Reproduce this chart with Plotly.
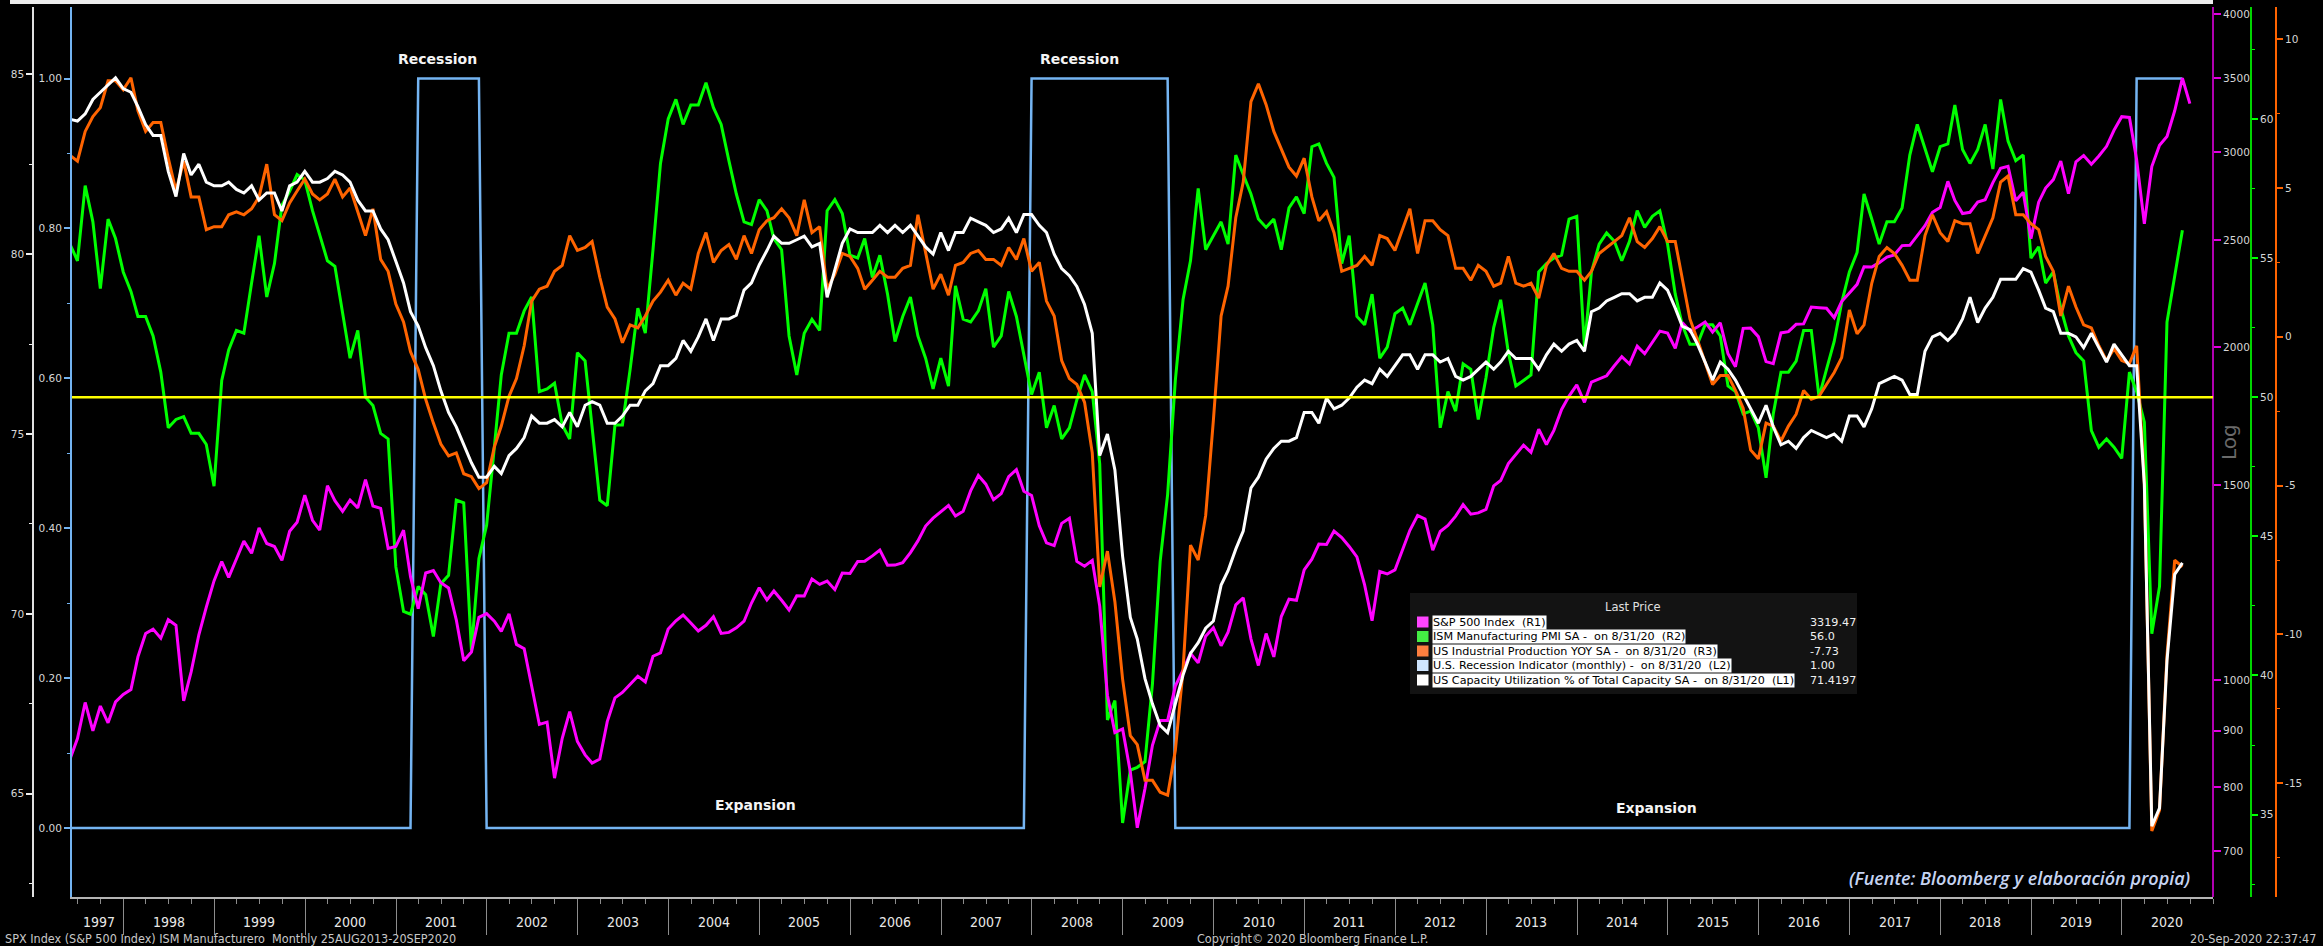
import calendar
import plotly.graph_objects as go

W, H = 2323, 946

# ---------------- data (monthly, May-1997 .. Aug-2020; S&P to Sep-2020) ----------------
spx = [848.28, 885.14, 954.31, 899.47, 947.28, 914.62, 955.40, 970.43,
       980.28, 1049.34, 1101.75, 1111.75, 1090.82, 1133.84, 1120.67, 957.28, 1017.01, 1098.67, 1163.63, 1229.23,
       1279.64, 1238.33, 1286.37, 1335.18, 1301.84, 1372.71, 1328.72, 1320.41, 1282.71, 1362.93, 1388.91, 1469.25,
       1394.46, 1366.42, 1498.58, 1452.43, 1420.60, 1454.60, 1430.83, 1517.68, 1436.51, 1429.40, 1314.95, 1320.28,
       1366.01, 1239.94, 1160.33, 1249.46, 1255.82, 1224.42, 1211.23, 1133.58, 1040.94, 1059.78, 1139.45, 1148.08,
       1130.20, 1106.73, 1147.39, 1076.92, 1067.14, 989.82, 911.62, 916.07, 815.28, 885.76, 936.31, 879.82,
       855.70, 841.15, 848.18, 916.92, 963.59, 974.50, 990.31, 1008.01, 995.97, 1050.71, 1058.20, 1111.92,
       1131.13, 1144.94, 1126.21, 1107.30, 1120.68, 1140.84, 1101.72, 1104.24, 1114.58, 1130.20, 1173.82, 1211.92,
       1181.27, 1203.60, 1180.59, 1156.85, 1191.50, 1191.33, 1234.18, 1220.33, 1228.81, 1207.01, 1249.48, 1248.29,
       1280.08, 1280.66, 1294.83, 1310.61, 1270.09, 1270.20, 1276.66, 1303.82, 1335.85, 1377.94, 1400.63, 1418.30,
       1438.24, 1406.82, 1420.86, 1482.37, 1530.62, 1503.35, 1455.27, 1473.99, 1526.75, 1549.38, 1481.14, 1468.36,
       1378.55, 1330.63, 1322.70, 1385.59, 1400.38, 1280.00, 1267.38, 1282.83, 1166.36, 968.75, 896.24, 903.25,
       825.88, 735.09, 797.87, 872.81, 919.14, 919.32, 987.48, 1020.62, 1057.08, 1036.19, 1095.63, 1115.10,
       1073.87, 1104.49, 1169.43, 1186.69, 1089.41, 1030.71, 1101.60, 1049.33, 1141.20, 1183.26, 1180.55, 1257.64,
       1286.12, 1327.22, 1325.83, 1363.61, 1345.20, 1320.64, 1292.28, 1218.89, 1131.42, 1253.30, 1246.96, 1257.60,
       1312.41, 1365.68, 1408.47, 1397.91, 1310.33, 1362.16, 1379.32, 1406.58, 1440.67, 1412.16, 1416.18, 1426.19,
       1498.11, 1514.68, 1569.19, 1597.57, 1630.74, 1606.28, 1685.73, 1632.97, 1681.55, 1756.54, 1805.81, 1848.36,
       1782.59, 1859.45, 1872.34, 1883.95, 1923.57, 1960.23, 1930.67, 2003.37, 1972.29, 2018.05, 2067.56, 2058.90,
       1994.99, 2104.50, 2067.89, 2085.51, 2107.39, 2063.11, 2103.84, 1972.18, 1920.03, 2079.36, 2080.41, 2043.94,
       1940.24, 1932.23, 2059.74, 2065.30, 2096.95, 2098.86, 2173.60, 2170.95, 2168.27, 2126.15, 2198.81, 2238.83,
       2278.87, 2363.64, 2362.72, 2384.20, 2411.80, 2423.41, 2470.30, 2471.65, 2519.36, 2575.26, 2647.58, 2673.61,
       2823.81, 2713.83, 2640.87, 2648.05, 2705.27, 2718.37, 2816.29, 2901.52, 2913.98, 2711.74, 2760.17, 2506.85,
       2704.10, 2784.49, 2834.40, 2945.83, 2752.06, 2941.76, 2980.38, 2926.46, 2976.74, 3037.56, 3140.98, 3230.78,
       3225.52, 2954.22, 2584.59, 2912.43, 3044.31, 3100.29, 3271.12, 3500.31, 3319.47]

ism = [55.5, 54.9, 57.6, 56.3, 53.9, 56.4, 55.7, 54.5, 53.8, 52.9, 52.9, 52.2, 50.9, 48.9, 49.2, 49.3,
       48.7, 48.7, 48.3, 46.8, 50.6, 51.7, 52.4, 52.3, 54.1, 55.8, 53.6, 54.8, 56.9, 57.4, 58.0, 57.8,
       56.7, 55.8, 54.9, 54.7, 53.1, 51.4, 52.4, 50.0, 49.7, 48.7, 48.5, 43.9, 42.3, 42.2, 43.2,
       42.9, 41.4, 43.3, 43.6, 46.3, 46.2, 40.9, 44.2, 45.4, 48.2, 50.8, 52.3, 52.3, 53.1, 53.6, 50.2,
       50.3, 50.5, 49.0, 48.5, 51.6, 51.3, 49.0, 46.3, 46.1, 49.0, 49.0, 51.0, 53.2, 52.3, 55.3, 58.4,
       60.0, 60.7, 59.8, 60.5, 60.5, 61.3, 60.4, 59.8, 58.5, 57.3, 56.3, 56.2, 57.1, 56.7, 55.7,
       55.3, 52.2, 50.8, 52.3, 52.8, 52.4, 56.7, 57.1, 56.6, 55.1, 55.0, 55.7, 54.3, 55.1, 53.7, 52.0,
       52.9, 53.6, 52.2, 51.4, 50.3, 51.4, 50.4, 54.0, 52.8, 52.7, 53.1, 53.9, 51.8, 52.2, 53.8, 52.9,
       51.5, 50.1, 50.9, 48.9, 49.7, 48.5, 48.9, 49.9, 50.8, 50.2, 47.6, 38.4, 39.1, 34.7, 36.6,
       36.7, 36.9, 39.7, 44.1, 46.5, 50.6, 53.5, 54.9, 57.5, 55.3, 55.8, 56.3, 55.5, 58.7, 58.0, 57.3,
       56.4, 56.1, 56.4, 55.3, 56.8, 57.2, 56.6, 59.0, 59.1, 58.4, 57.9, 54.8, 55.8, 52.9, 52.6, 53.7,
       51.4, 51.8, 53.0, 53.2, 52.6, 53.4, 54.1, 52.6, 48.9, 50.2, 49.5, 51.2, 51.0, 49.2, 50.7,
       52.5, 53.5, 51.6, 50.4, 50.6, 50.8, 54.5, 54.8, 55.0, 55.1, 56.4, 56.5, 51.8, 54.5, 55.5, 55.9,
       55.6, 54.9, 55.6, 56.7, 56.1, 56.5, 56.7, 55.5, 53.7, 52.6, 51.9, 51.9, 52.6, 52.6, 52.2, 50.4,
       50.2, 49.4, 49.5, 48.9, 47.1, 49.4, 50.9, 50.9, 51.3, 52.4, 52.4, 50.0, 51.0, 52.0, 53.4,
       54.5, 55.2, 57.3, 56.4, 55.5, 56.3, 56.3, 56.8, 58.7, 59.8, 58.9, 58.1, 59.0, 59.1, 60.5, 58.9,
       58.4, 58.9, 59.8, 58.2, 60.7, 59.2, 58.5, 58.7, 55.0, 55.4, 54.1, 54.5, 53.2, 52.2, 51.6, 51.3,
       48.8, 48.2, 48.5, 48.2, 47.8, 50.9, 50.2, 49.1, 41.5, 43.2, 52.7, 54.3, 56.0]

ip_yoy = [6.1, 5.9, 6.9, 7.4, 7.7, 8.6, 8.6, 8.3, 8.7, 7.6, 6.9, 7.2, 7.2, 6.0, 4.9, 5.9,
          4.7, 4.7, 3.6, 3.7, 3.7, 4.1, 4.2, 4.1, 4.3, 4.7, 5.8, 4.1, 3.9, 4.5, 4.9, 5.3,
          4.8, 4.6, 4.8, 5.3, 4.7, 5.0, 4.2, 3.4, 4.3, 2.6, 2.2, 1.1, 0.5, -0.5, -1.1,
          -2.1, -2.9, -3.6, -4.0, -3.9, -4.6, -4.7, -5.1, -4.9, -3.7, -3.0, -2.0, -1.4, -0.3, 1.2, 1.6,
          1.7, 2.2, 2.4, 3.4, 2.9, 3.0, 3.2, 2.0, 1.0, 0.6, -0.2, 0.4, 0.3, 0.7, 1.2, 1.5,
          1.9, 1.4, 1.8, 1.6, 2.8, 3.5, 2.5, 2.9, 3.1, 2.6, 3.4, 2.8, 3.6, 3.9, 4.0,
          4.3, 4.0, 3.4, 4.6, 3.5, 3.7, 1.6, 2.1, 2.8, 2.7, 2.3, 1.6, 1.9, 2.2, 2.0, 2.0,
          2.3, 2.4, 4.1, 2.8, 1.6, 2.1, 1.4, 2.4, 2.5, 2.8, 2.9, 2.6, 2.6, 2.4, 3.0, 2.6,
          3.3, 2.2, 2.5, 1.2, 0.7, -0.8, -1.4, -1.6, -2.2, -3.9, -8.4, -7.2, -8.9, -11.5, -13.4,
          -13.7, -14.9, -14.9, -15.3, -15.4, -13.9, -11.2, -7.0, -7.5, -6.0, -2.8, 0.7, 1.7, 4.0, 5.2, 7.9,
          8.5, 7.8, 6.9, 6.3, 5.7, 5.4, 6.0, 4.7, 3.9, 4.2, 3.5, 2.2, 2.3, 2.4, 2.7, 2.4,
          3.4, 3.3, 2.9, 3.6, 4.3, 2.8, 3.9, 3.9, 3.6, 3.4, 2.3, 2.3, 1.9, 2.4, 2.2,
          1.7, 1.8, 2.7, 1.8, 1.7, 1.8, 1.3, 2.4, 2.8, 2.3, 2.2, 2.2, 1.9, 2.2, 2.8, 3.0,
          3.2, 3.4, 4.0, 3.2, 3.0, 3.3, 3.7, 3.2, 3.2, 2.0, 0.6, -0.1, -0.9, -1.6, -1.3, -1.3,
          -1.8, -2.4, -3.8, -4.1, -2.9, -3.0, -3.5, -3.0, -2.6, -1.8, -2.1, -2.0, -1.6, -1.2, -0.7,
          0.9, 0.1, 0.4, 1.8, 2.7, 3.0, 2.8, 2.4, 1.9, 1.9, 3.4, 4.1, 3.5, 3.2, 3.9, 3.8,
          3.8, 2.8, 3.4, 4.0, 5.2, 5.4, 4.1, 4.1, 3.8, 3.6, 2.7, 2.2, 0.7, 1.7, 1.0, 0.4,
          0.3, -0.3, -0.8, -0.4, -0.8, -0.9, -0.3, -4.9, -16.6, -15.9, -10.7, -7.5, -7.73]

cap_util = [83.75, 83.7, 83.9, 84.3, 84.5, 84.7, 84.9, 84.6, 84.5, 84.1, 83.6, 83.3, 83.3, 82.3, 81.6, 82.8,
            82.2, 82.5, 82.0, 81.9, 81.9, 82.0, 81.8, 81.7, 81.9, 81.5, 81.7, 81.7, 81.2, 81.9, 82.0, 82.3,
            82.0, 82.0, 82.1, 82.3, 82.2, 82.0, 81.5, 81.2, 81.2, 80.7, 80.4, 79.8, 79.2, 78.4, 78.0,
            77.4, 76.9, 76.2, 75.6, 75.2, 74.7, 74.2, 73.8, 73.8, 74.1, 73.9, 74.4, 74.6, 74.9, 75.5, 75.3,
            75.3, 75.4, 75.2, 75.6, 75.2, 75.8, 75.9, 75.8, 75.3, 75.3, 75.5, 75.8, 75.8, 76.2, 76.4, 76.9,
            76.9, 77.1, 77.6, 77.3, 77.7, 78.2, 77.6, 78.2, 78.2, 78.3, 79.0, 79.2, 79.7, 80.1, 80.5,
            80.3, 80.3, 80.4, 80.5, 80.2, 80.3, 78.8, 79.6, 80.3, 80.7, 80.6, 80.6, 80.6, 80.8, 80.6, 80.8,
            80.6, 80.8, 80.5, 80.2, 80.0, 80.6, 80.1, 80.6, 80.6, 81.0, 80.9, 80.8, 80.6, 80.7, 81.0, 80.6,
            81.1, 81.1, 80.8, 80.6, 80.0, 79.6, 79.4, 79.1, 78.6, 77.8, 74.4, 75.0, 74.0, 71.6, 69.9,
            69.3, 68.2, 67.5, 66.9, 66.7, 67.5, 68.3, 68.9, 69.2, 69.6, 69.8, 70.8, 71.2, 71.8, 72.3, 73.5,
            73.8, 74.3, 74.6, 74.8, 74.8, 74.9, 75.6, 75.6, 75.3, 76.0, 75.7, 75.8, 76.0, 76.3, 76.5, 76.4,
            76.8, 76.6, 76.9, 77.2, 77.2, 76.8, 77.2, 77.2, 77.0, 77.1, 76.6, 76.5, 76.6, 76.8, 77.0,
            76.8, 77.0, 77.3, 77.1, 77.1, 77.1, 76.8, 77.2, 77.5, 77.3, 77.5, 77.6, 77.3, 78.4, 78.5, 78.7,
            78.8, 78.9, 78.9, 78.7, 78.8, 78.8, 79.2, 79.0, 78.5, 78.0, 77.9, 77.5, 77.0, 76.5, 77.0, 76.8,
            76.5, 76.1, 75.7, 75.3, 75.8, 75.2, 74.7, 74.8, 74.6, 74.9, 75.1, 75.0, 74.9, 75.0, 74.8,
            75.5, 75.5, 75.2, 75.7, 76.4, 76.5, 76.6, 76.5, 76.1, 76.1, 77.3, 77.7, 77.8, 77.6, 77.8, 78.2,
            78.8, 78.1, 78.5, 78.8, 79.3, 79.3, 79.3, 79.6, 79.5, 79.0, 78.5, 78.4, 77.8, 77.8, 77.7, 77.4,
            77.8, 77.4, 77.0, 77.5, 77.2, 76.9, 76.9, 73.6, 64.1, 64.6, 68.7, 71.1, 71.4197]

# recession indicator, run lengths (0 = expansion, 1 = recession)
recession = [0] * 46 + [1] * 9 + [0] * 72 + [1] * 19 + [0] * 127 + [1] * 7

ISM_THRESHOLD = 50

years = list(range(1997, 2021))
l1_ticks = [65, 70, 75, 80, 85]
l2_ticks = [0.0, 0.2, 0.4, 0.6, 0.8, 1.0]
r1_ticks = [700, 800, 900, 1000, 1500, 2000, 2500, 3000, 3500, 4000]
r2_ticks = [35, 40, 45, 50, 55, 60]
r3_ticks = [-15, -10, -5, 0, 5, 10]

legend_rows = [
    ("S&amp;P 500 Index\u00a0\u00a0(R1)", "3319.47", "#FF44FF"),
    ("ISM Manufacturing PMI SA -\u00a0\u00a0on 8/31/20\u00a0\u00a0(R2)", "56.0", "#44EE44"),
    ("US Industrial Production YOY SA -\u00a0\u00a0on 8/31/20\u00a0\u00a0(R3)", "-7.73", "#FF7F3F"),
    ("U.S. Recession Indicator (monthly) -\u00a0\u00a0on 8/31/20\u00a0\u00a0(L2)", "1.00", "#D0E6FF"),
    ("US Capacity Utilization % of Total Capacity SA -\u00a0\u00a0on 8/31/20\u00a0\u00a0(L1)", "71.4197", "#FFFFFF"),
]

assert len(spx) == 281, len(spx)
for name, s in [("ism", ism), ("ip", ip_yoy), ("cu", cap_util), ("rec", recession)]:
    assert len(s) == 280, (name, len(s))


def month_ends(n, y=1997, m=5):
    out = []
    for _ in range(n):
        out.append(f"{y:04d}-{m:02d}-{calendar.monthrange(y, m)[1]:02d}")
        m += 1
        if m > 12:
            m, y = 1, y + 1
    return out


dates = month_ends(281)


def px(X):
    return X / W


def py(Y):
    return 1 - Y / H


XD = [px(72), px(2213)]
YD = [py(897), py(7)]

TICKFONT = dict(family="DejaVu Sans", size=10.5, color="#D6D6D6")
C_BLUE = "#74B4F2"
C_MAG = "#FF00FF"
C_GREEN = "#00FF00"
C_ORANGE = "#FF6400"

fig = go.Figure()
fig.add_trace(go.Scatter(x=dates[:280], y=recession, mode="lines", line=dict(color=C_BLUE, width=2.5),
                         xaxis="x", yaxis="y", hoverinfo="skip", showlegend=False))
fig.add_trace(go.Scatter(x=dates[:280], y=ism, mode="lines", line=dict(color=C_GREEN, width=3),
                         xaxis="x", yaxis="y2", hoverinfo="skip", showlegend=False))
fig.add_trace(go.Scatter(x=dates, y=spx, mode="lines", line=dict(color=C_MAG, width=3),
                         xaxis="x", yaxis="y3", hoverinfo="skip", showlegend=False))
fig.add_trace(go.Scatter(x=dates[:280], y=ip_yoy, mode="lines", line=dict(color=C_ORANGE, width=3),
                         xaxis="x", yaxis="y4", hoverinfo="skip", showlegend=False))
fig.add_trace(go.Scatter(x=dates[:280], y=cap_util, mode="lines", line=dict(color="#FFFFFF", width=3),
                         xaxis="x", yaxis="y5", hoverinfo="skip", showlegend=False))


def fmt(v):
    return f"{v:g}"


common = dict(showgrid=False, zeroline=False, tickfont=TICKFONT, ticks="outside", fixedrange=True)

layout = dict(
    width=W, height=H,
    margin=dict(l=0, r=0, t=0, b=0, autoexpand=False),
    paper_bgcolor="black", plot_bgcolor="black",
    showlegend=False,
    xaxis=dict(domain=XD, type="date", range=["1997-06-08", "2021-01-01"], anchor="y",
               showline=True, linecolor="#B4B4B4", linewidth=1.5,
               tickvals=[f"{y}-01-01" for y in years[1:]], ticktext=["" for _ in years[1:]],
               ticks="outside", ticklen=36, tickwidth=1, tickcolor="#8C8C8C",
               showgrid=False, zeroline=False, fixedrange=True,
               minor=dict(dtick="M3", tick0="1997-01-01", ticks="outside", ticklen=5,
                          tickcolor="#8C8C8C", tickwidth=1, showgrid=False)),
    # L2 recession indicator (base axis)
    yaxis=dict(domain=YD, range=[-0.092, 1.0954], anchor="x", side="left",
               tickvals=l2_ticks, ticktext=[f"{v:.2f}" for v in l2_ticks],
               showline=True, linecolor=C_BLUE, linewidth=2, ticklen=6, tickwidth=2, tickcolor=C_BLUE,
               minor=dict(tickvals=[0.1, 0.3, 0.5, 0.7, 0.9], ticks="outside", ticklen=3,
                          tickcolor=C_BLUE, tickwidth=1),
               **common),
    # R2 ISM
    yaxis2=dict(overlaying="y", anchor="free", position=px(2251), side="right",
                range=[32.04, 64.02], tickvals=r2_ticks, ticktext=[fmt(v) for v in r2_ticks],
                showline=True, linecolor="#00D400", linewidth=2, ticklen=6, tickwidth=2, tickcolor=C_GREEN,
                minor=dict(tickvals=[32.5, 37.5, 42.5, 47.5, 52.5, 57.5, 62.5], ticks="outside", ticklen=3,
                           tickcolor=C_GREEN, tickwidth=1),
                **common),
    # R1 S&P (log)
    yaxis3=dict(overlaying="y", anchor="free", position=px(2213), side="right", type="log",
                range=[2.8038, 3.6085], tickvals=r1_ticks, ticktext=[str(v) for v in r1_ticks],
                showline=True, linecolor="#B000B0", linewidth=2, ticklen=7, tickwidth=2, tickcolor="#E000E0",
                **common),
    # R3 IP YoY
    yaxis4=dict(overlaying="y", anchor="free", position=px(2276), side="right",
                range=[-18.82, 11.08], tickvals=r3_ticks, ticktext=[fmt(v) for v in r3_ticks],
                showline=True, linecolor=C_ORANGE, linewidth=2, ticklen=6, tickwidth=2, tickcolor=C_ORANGE,
                minor=dict(tickvals=[-17.5, -12.5, -7.5, -2.5, 2.5, 7.5], ticks="outside", ticklen=3,
                           tickcolor=C_ORANGE, tickwidth=1),
                **common),
    # L1 capacity utilization
    yaxis5=dict(overlaying="y", anchor="free", position=px(33), side="left",
                range=[62.13, 86.87], tickvals=l1_ticks, ticktext=[fmt(v) for v in l1_ticks],
                showline=True, linecolor="#E0E0E0", linewidth=1.5, ticklen=6, tickwidth=2, tickcolor="#F0F0F0",
                minor=dict(tickvals=[62.5, 67.5, 72.5, 77.5, 82.5], ticks="outside", ticklen=3,
                           tickcolor="#F0F0F0", tickwidth=1),
                **common),
)
fig.update_layout(**layout)

shapes = []
# ISM = 50 reference line
shapes.append(dict(type="line", xref="paper", x0=XD[0], x1=XD[1], yref="y2", y0=ISM_THRESHOLD, y1=ISM_THRESHOLD,
                   line=dict(color="#FFFF00", width=2.5), layer="above"))
# top frame strip
shapes.append(dict(type="rect", xref="paper", yref="paper", x0=px(10), x1=px(2213), y0=py(4), y1=1,
                   fillcolor="#EDEDED", line=dict(width=0), layer="above"))
# legend panel
LX0, LX1, LY0, LY1 = 1410, 1857, 593, 694
shapes.append(dict(type="rect", xref="paper", yref="paper", x0=px(LX0), x1=px(LX1), y0=py(LY1), y1=py(LY0),
                   fillcolor="#131313", line=dict(width=0), layer="above"))
row_y = [622, 636.5, 651, 665.5, 680]
for (label, val, col), ry in zip(legend_rows, row_y):
    shapes.append(dict(type="rect", xref="paper", yref="paper", x0=px(1417), x1=px(1428.5),
                       y0=py(ry + 5.5), y1=py(ry - 5.5), fillcolor=col, line=dict(width=0), layer="above"))
fig.update_layout(shapes=shapes)

ann = []
BOLD = dict(family="DejaVu Sans", size=14, color="#F4F4F4")
for txt, X, Y in [("Recession", 437, 59), ("Recession", 1079, 59), ("Expansion", 755, 805), ("Expansion", 1656, 808)]:
    ann.append(dict(text=f"<b>{txt}</b>", x=px(X), y=py(Y), xref="paper", yref="paper", showarrow=False,
                    xanchor="center", yanchor="middle", font=BOLD))
ann.append(dict(text="(Fuente: Bloomberg y elaboración propia)", x=px(2192), y=py(878), xref="paper", yref="paper",
                showarrow=False, xanchor="right", yanchor="middle",
                font=dict(family="Open Sans", size=18, color="#C6D4F2", style="italic", weight=600)))
ann.append(dict(text="Log", x=px(2229), y=py(442), xref="paper", yref="paper", showarrow=False, textangle=-90,
                xanchor="center", yanchor="middle", font=dict(family="DejaVu Sans", size=20, color="#6A6A6A")))
# legend texts
ann.append(dict(text="Last Price", x=px(1633), y=py(607), xref="paper", yref="paper", showarrow=False,
                xanchor="center", yanchor="middle", font=dict(family="DejaVu Sans", size=11.5, color="#E0E0E0")))
for (label, val, col), ry in zip(legend_rows, row_y):
    ann.append(dict(text=label, x=px(1432), y=py(ry), xref="paper", yref="paper", showarrow=False,
                    xanchor="left", yanchor="middle", bgcolor="#FFFFFF", borderpad=0,
                    font=dict(family="DejaVu Sans", size=11.2, color="#000000")))
    ann.append(dict(text=val, x=px(1808), y=py(ry), xref="paper", yref="paper", showarrow=False,
                    xanchor="left", yanchor="middle",
                    font=dict(family="DejaVu Sans", size=11.2, color="#F0F0F0")))
# year labels
NARROW = "Liberation Sans Narrow, DejaVu Sans Condensed, Roboto Condensed, Liberation Sans"
for y in years:
    xpos = "1997-09-25" if y == 1997 else f"{y}-07-01"
    ann.append(dict(text=str(y), x=xpos, y=py(922), xref="x", yref="paper", showarrow=False,
                    xanchor="center", yanchor="middle", font=dict(family=NARROW, size=14, color="#E8E8E8")))
# footer
FOOT = dict(family=NARROW, size=12.5, color="#C8C8C8")
ann.append(dict(text="SPX Index (S&amp;P 500 Index) ISM Manufacturero\u00a0\u00a0Monthly 25AUG2013-20SEP2020",
                x=px(3), y=py(938), xref="paper", yref="paper", showarrow=False, xanchor="left",
                yanchor="middle", font=FOOT))
ann.append(dict(text="Copyright© 2020 Bloomberg Finance L.P.", x=px(1312), y=py(938), xref="paper", yref="paper",
                showarrow=False, xanchor="center", yanchor="middle", font=FOOT))
ann.append(dict(text="20-Sep-2020 22:37:47", x=px(2318), y=py(938), xref="paper", yref="paper",
                showarrow=False, xanchor="right", yanchor="middle", font=FOOT))
fig.update_layout(annotations=ann)

fig.write_html("out.html", config={"displayModeBar": False},
               post_script="document.body.style.margin='0';document.body.style.padding='0';"
                           "document.body.style.overflow='hidden';document.body.style.background='black';")
